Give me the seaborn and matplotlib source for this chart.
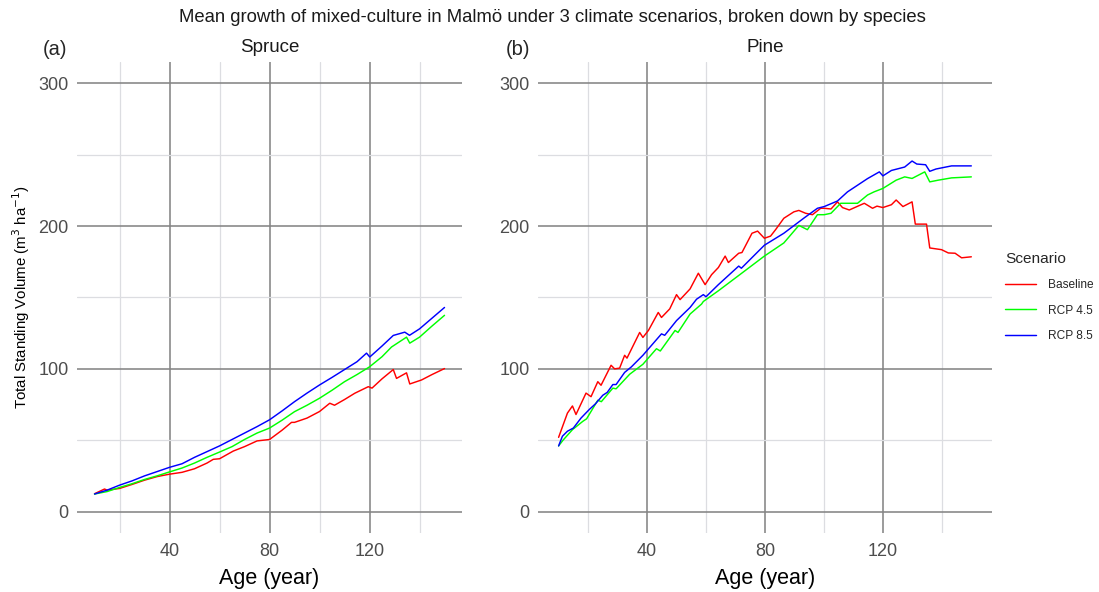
import numpy as np
import pandas as pd
import matplotlib
matplotlib.use("Agg")
import matplotlib.pyplot as plt
from matplotlib.lines import Line2D
import seaborn as sns

# ---- Spruce: mean total standing volume (m3/ha) by stand age ----
spruce_base_age = [10, 14, 15, 20, 25, 30, 35, 40, 45, 47, 50, 55, 57.5, 60, 65.5, 70, 75, 80,
                   85, 88.8, 90, 95, 100, 104.1, 106, 110, 114.1, 119.5, 121, 125, 129.5,
                   130.8, 134.8, 136.1, 140.8, 145, 150]
spruce_base_vol = [12.5, 15.8, 15, 16.2, 19, 22, 24.5, 26.2, 27.5, 28.5, 30, 34, 36.6, 37, 42.4,
                   45.5, 49.5, 50.5, 57, 62.5, 62.5, 65.5, 70.1, 75.9, 74.5, 78.5, 82.9, 87.5,
                   86.5, 93, 99.5, 93.3, 97.2, 89.4, 92.2, 96, 100.2]

spruce_rcp45_age = [10, 15, 20, 25, 30, 35, 40, 45, 50, 55, 60, 65, 70, 75, 80, 85, 90, 95, 100,
                    105, 110, 115, 120, 125, 128.8, 134.8, 136.1, 140, 145, 150]
spruce_rcp45_vol = [12.3, 14, 16.9, 19.5, 22.5, 25, 27.8, 30.5, 34, 38, 41.7, 45.5, 50.5, 55,
                    58.5, 64, 70, 74.5, 79.4, 85, 91, 96, 101.4, 108.5, 115.3, 122.2, 118,
                    122.2, 130, 137.5]

spruce_rcp85_age = [10, 15, 20, 25, 30, 35, 40, 45, 50, 55, 60, 65, 70, 75, 80, 85, 90, 95, 100,
                    105, 110, 115, 118.8, 120.1, 125, 129.5, 134.1, 136, 140, 145, 150]
spruce_rcp85_vol = [12.3, 15, 18.5, 21.5, 25, 28, 31, 33.5, 38, 42, 46, 50.5, 55, 59.5, 64.3,
                    70.5, 77, 83, 88.7, 94, 99.5, 105, 111, 108.3, 116, 123.4, 125.7, 123.5,
                    128, 135.5, 143]

# ---- Pine: mean total standing volume (m3/ha) by stand age ----
pine_base_age = [10, 13, 14.7, 15.9, 19.3, 21, 23.3, 24.4, 27.8, 29, 30.7, 32.4, 33.2, 37.5,
                 38.6, 40.5, 43.8, 44.9, 47.7, 50, 51.2, 54.6, 57.4, 59.7, 61.9, 64.2, 66.5,
                 67.6, 71.1, 72.2, 75.6, 77.5, 79.8, 81.9, 83.6, 86.4, 89.8, 91.5, 93.8, 96.1,
                 98.9, 100.1, 102.4, 104.6, 106.3, 108.6, 113.7, 116.5, 118, 120, 122.9, 124.5,
                 126.8, 129.9, 131, 134.8, 135.9, 139.9, 142.2, 144.5, 146.7, 150]
pine_base_vol = [52, 69, 74, 68, 83, 80.5, 91, 88.5, 102.5, 100, 100.5, 109.5, 107.5, 125.5,
                 122, 127, 139.5, 136, 142, 152, 148.5, 156, 167, 159, 166, 171, 179, 174.5,
                 181, 181.5, 195, 196.5, 191.5, 193, 197.5, 205.5, 210, 211, 209, 208, 212.5,
                 212.5, 212, 217, 213, 211.3, 216, 212.5, 214, 213, 215, 218.3, 213.7, 217,
                 201.4, 201.4, 184.7, 183.5, 181.2, 181, 177.8, 178.5]

pine_rcp45_age = [10, 11.5, 14.7, 18.2, 19.5, 23.3, 24.5, 28.4, 29.5, 34.1, 38.6, 43.2, 44.5,
                  49.5, 50.5, 54.6, 58.5, 59.1, 64.2, 71.6, 79.8, 86.4, 91.5, 94.4, 97.8, 100.1,
                  102.4, 105.7, 108.6, 111.4, 114.8, 117, 120, 124.5, 127.4, 129.9, 134.2,
                  135.9, 138.8, 143.3, 150]
pine_rcp45_vol = [46, 50, 57.4, 63.2, 65, 78, 77, 86.5, 86, 96.2, 103.2, 114.1, 112.5, 126.9,
                  125.5, 138.4, 145.4, 147.2, 154.7, 166.2, 179, 188.2, 200.5, 197.5, 208, 208,
                  209, 216, 216, 216, 221.8, 224, 226.4, 232.2, 234.5, 233.4, 238, 231, 232.2,
                  233.8, 234.5]

pine_rcp85_age = [10, 11.3, 13, 15, 17.6, 20.4, 22.5, 25, 26.5, 28.4, 29.5, 32.4, 34.7, 38.6,
                  42, 44.9, 46, 50, 54.6, 56.8, 59.1, 60, 64.2, 71.1, 72, 79.8, 86.4, 93.2,
                  97.8, 100.1, 104.6, 108, 114.8, 118.8, 120, 122.9, 127.4, 129.9, 131.5,
                  134.5, 135.9, 138, 143.3, 150]
pine_rcp85_vol = [46, 52.8, 56.3, 58.5, 65.5, 71.5, 75.5, 81.5, 83.5, 89, 89, 97.5, 101.4, 109.5,
                  117.6, 124.5, 123.5, 133.8, 143, 148.8, 152, 150.5, 159, 172, 170.5, 186.6,
                  195, 205.6, 212.5, 213.7, 217.6, 224, 233.3, 238, 235.2, 239, 241.4, 245.6,
                  243.5, 243, 238.4, 240, 242.2, 242.2]

scenarios = ["Baseline", "RCP 4.5", "RCP 8.5"]
scenario_colors = ["#FF0000", "#00FF00", "#0000FF"]
x_major = [40, 80, 120]
x_minor = [20, 60, 100, 140]
y_major = [0, 100, 200, 300]
y_minor = [50, 150, 250]


def long_frame(series):
    parts = []
    for name, (age, vol) in zip(scenarios, series):
        parts.append(pd.DataFrame({"Age": age, "Volume": vol, "Scenario": name}))
    return pd.concat(parts, ignore_index=True)


spruce = long_frame([(spruce_base_age, spruce_base_vol),
                     (spruce_rcp45_age, spruce_rcp45_vol),
                     (spruce_rcp85_age, spruce_rcp85_vol)])
pine = long_frame([(pine_base_age, pine_base_vol),
                   (pine_rcp45_age, pine_rcp45_vol),
                   (pine_rcp85_age, pine_rcp85_vol)])

sns.set_theme(style="white")
plt.rcParams["font.family"] = ["Liberation Sans", "DejaVu Sans"]

fig = plt.figure(figsize=(10.99, 5.92), dpi=100)
ax_a = fig.add_axes([0.0701, 0.0997, 0.3503, 0.7956])
ax_b = fig.add_axes([0.4895, 0.0997, 0.4131, 0.7956])
palette = dict(zip(scenarios, scenario_colors))

for ax, df, name in [(ax_a, spruce, "Spruce"), (ax_b, pine, "Pine")]:
    sns.lineplot(data=df, x="Age", y="Volume", hue="Scenario", palette=palette,
                 estimator=None, sort=True, linewidth=1.05, legend=False, ax=ax, zorder=3)
    ax.set_xlim(3, 157)
    ax.set_ylim(-15, 315)
    ax.set_xticks(x_major)
    ax.set_xticks(x_minor, minor=True)
    ax.set_yticks(y_major)
    ax.set_yticks(y_minor, minor=True)
    ax.grid(which="major", color="#858585", linewidth=1.15)
    ax.grid(which="minor", color="#dcdde1", linewidth=0.9)
    ax.set_axisbelow(True)
    for s in ax.spines.values():
        s.set_visible(False)
    ax.tick_params(which="both", length=0, labelsize=13, labelcolor="#4d4d4d")
    ax.tick_params(axis="y", pad=6)
    ax.tick_params(axis="x", pad=7)
    ax.set_xlabel("Age (year)", fontsize=15.5, color="black", labelpad=6)
    ax.set_ylabel("")
    ax.set_title(name, fontsize=13.5, color="#1a1a1a", pad=7)

ax_a.set_ylabel("Total Standing Volume (m$^3$ ha$^{-1}$)", fontsize=10.8, color="black",
                labelpad=5)
fig.text(0.050, 0.917, "(a)", fontsize=14.5, ha="center", va="center")
fig.text(0.4713, 0.917, "(b)", fontsize=14.5, ha="center", va="center")
fig.text(0.503, 0.970, "Mean growth of mixed-culture in Malmö under 3 climate scenarios, "
         "broken down by species", fontsize=13.3, ha="center", va="center", color="#1a1a1a")

handles = [Line2D([0], [0], color=c, linewidth=1.05) for c in scenario_colors]
leg = fig.legend(handles, scenarios, title="Scenario", loc="upper left",
                 bbox_to_anchor=(0.905, 0.592), frameon=False, fontsize=8.6,
                 title_fontsize=11.1, handlelength=2.6, labelspacing=1.1, handletextpad=1.0)
leg._legend_box.align = "left"

fig.savefig("out.png", dpi=100)
